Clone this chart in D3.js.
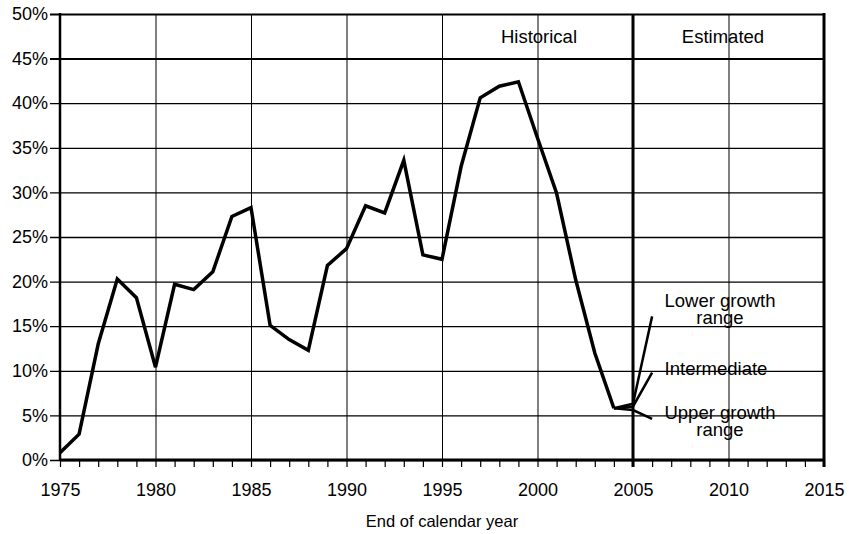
<!DOCTYPE html>
<html>
<head>
<meta charset="utf-8">
<title>Historical and estimated</title>
<script src="https://cdn.jsdelivr.net/npm/d3@7"></script>
<style>
body { margin: 0; background: white; }
svg { font-family: "Liberation Sans", Arial, sans-serif; }
</style>
</head>
<body>
<div id="chart"></div>
<script>
// historical values, percent, year by year
var years = d3.range(1975, 2005);
var historical = [0.8, 2.9, 13.0, 20.3, 18.2, 10.4, 19.7, 19.1, 21.1, 27.3,
                  28.3, 15.1, 13.5, 12.3, 21.8, 23.7, 28.5, 27.7, 33.6, 23.0,
                  22.5, 32.9, 40.6, 41.9, 42.4, 36.1, 29.9, 20.2, 12.0, 5.8];

// estimated scenarios from 2004
var scenYears = [2004, 2005, 2006];
var lowerGrowth = [5.8, 6.3, 16.1];
var intermediate = [5.8, 6.0, 9.8];
var upperGrowth = [5.8, 5.6, 4.6];

var yTicks = d3.range(0, 51, 5);
var xLabels = d3.range(1975, 2016, 5);

var w = 849, h = 534;
var pLeft = 60, pRight = 824, pTop = 14, pBottom = 460;

var x = d3.scaleLinear().domain([1975, 2015]).range([pLeft, pRight]);
var y = d3.scaleLinear().domain([0, 50]).range([pBottom, pTop]);

var svg = d3.select("#chart").append("svg")
    .attr("width", w)
    .attr("height", h);

// vertical grid
svg.append("g")
    .attr("transform", "translate(0," + pBottom + ")")
    .call(d3.axisBottom(x).tickValues(d3.range(1980, 2015, 5)).tickSize(-(pBottom - pTop)).tickFormat(""))
    .call(function(g){
        g.select(".domain").remove();
        g.selectAll("line").attr("stroke", "#000").attr("stroke-width", 1);
    });

// horizontal grid + y labels
svg.append("g")
    .attr("transform", "translate(" + pLeft + ",0)")
    .call(d3.axisLeft(y).tickValues(yTicks).tickSize(-(pRight - pLeft)).tickPadding(12)
            .tickFormat(function(d){ return d + "%"; }))
    .call(function(g){
        g.select(".domain").remove();
        g.selectAll("line")
            .attr("x1", -10)
            .attr("stroke", "#000")
            .attr("stroke-width", function(d){ return d == 50 || d == 45 ? 2 : 1.3; });
        g.selectAll("text")
            .attr("fill", "#000")
            .style("font-size", "18px");
    });

// x axis with yearly ticks
svg.append("g")
    .attr("transform", "translate(0," + pBottom + ")")
    .call(d3.axisBottom(x).tickValues(d3.range(1975, 2016)).tickSize(7).tickPadding(16)
            .tickFormat(function(d){ return xLabels.indexOf(d) >= 0 ? d : ""; }))
    .call(function(g){
        g.select(".domain").remove();
        g.selectAll("line").attr("stroke", "#000").attr("stroke-width", 1.2);
        g.selectAll("text")
            .attr("fill", "#000")
            .style("font-size", "18px");
    });

// frame lines
svg.append("line")
    .attr("x1", pLeft).attr("x2", pRight).attr("y1", pBottom).attr("y2", pBottom)
    .attr("stroke", "#000").attr("stroke-width", 3);
svg.append("line")
    .attr("x1", pLeft).attr("x2", pLeft).attr("y1", pTop - 1).attr("y2", pBottom + 1)
    .attr("stroke", "#000").attr("stroke-width", 2.5);
svg.append("line")
    .attr("x1", pRight).attr("x2", pRight).attr("y1", pTop - 1).attr("y2", pBottom + 7)
    .attr("stroke", "#000").attr("stroke-width", 3);
svg.append("line")
    .attr("x1", x(2005)).attr("x2", x(2005)).attr("y1", pTop).attr("y2", pBottom + 7)
    .attr("stroke", "#000").attr("stroke-width", 3);

// section titles
svg.append("text")
    .attr("x", 539).attr("y", 43)
    .attr("text-anchor", "middle")
    .style("font-size", "18.5px")
    .text("Historical");
svg.append("text")
    .attr("x", 723).attr("y", 43)
    .attr("text-anchor", "middle")
    .style("font-size", "18.5px")
    .text("Estimated");

var line = d3.line()
    .x(function(d){ return x(d[0]); })
    .y(function(d){ return y(d[1]); });

svg.append("path")
    .attr("d", line(d3.zip(years, historical)))
    .attr("fill", "none")
    .attr("stroke", "#000")
    .attr("stroke-width", 3.5);

[lowerGrowth, intermediate, upperGrowth].forEach(function(s){
    svg.append("path")
        .attr("d", line(d3.zip(scenYears, s)))
        .attr("fill", "none")
        .attr("stroke", "#000")
        .attr("stroke-width", 2.5);
});

// scenario labels
var labels = [
    {lines: ["Lower growth", "range"], x: 720, y: 307},
    {lines: ["Intermediate"], x: 716, y: 375},
    {lines: ["Upper growth", "range"], x: 720, y: 419}
];
labels.forEach(function(l){
    var t = svg.append("text")
        .attr("text-anchor", "middle")
        .style("font-size", "18.5px");
    l.lines.forEach(function(s, i){
        t.append("tspan").attr("x", l.x).attr("y", l.y + i * 16.5).text(s);
    });
});

svg.append("text")
    .attr("x", 442).attr("y", 527)
    .attr("text-anchor", "middle")
    .style("font-size", "16.5px")
    .text("End of calendar year");
</script>
</body>
</html>
